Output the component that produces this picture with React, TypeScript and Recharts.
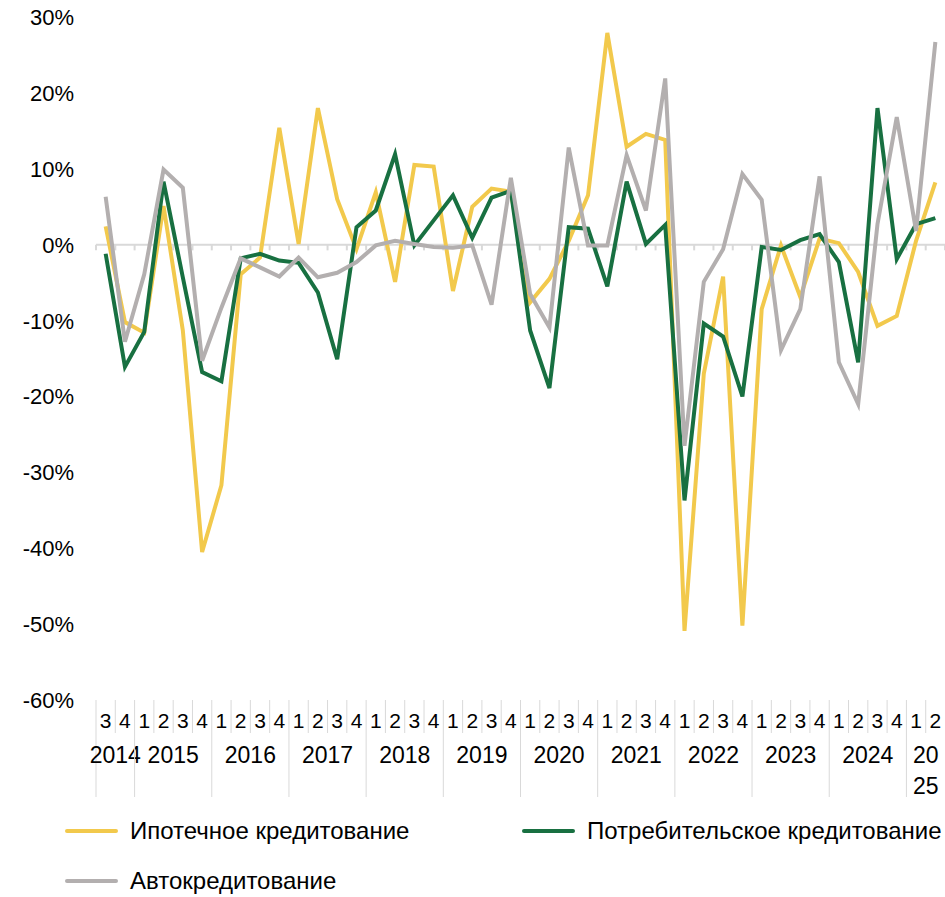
import React from 'react';
import { LineChart, Line, XAxis, YAxis, ReferenceLine, Legend } from 'recharts';

// quarter of each point, 2014 Q3 .. 2025 Q2
const quarterLabels = [
  '3', '4',
  '1', '2', '3', '4', '1', '2', '3', '4', '1', '2', '3', '4', '1', '2', '3', '4',
  '1', '2', '3', '4', '1', '2', '3', '4', '1', '2', '3', '4', '1', '2', '3', '4',
  '1', '2', '3', '4', '1', '2', '3', '4',
  '1', '2',
];
// one entry per year group, split into lines where the label is wrapped
const yearLabels = [
  ['2014'], ['2015'], ['2016'], ['2017'], ['2018'], ['2019'],
  ['2020'], ['2021'], ['2022'], ['2023'], ['2024'], ['20', '25'],
];

const mortgage = [
  2.4, -10.2, -11.6, 5.1, -11.3, -40.5, -31.7, -3.9, -1.7, 15.4, 0.1,
  18.0, 6.0, -0.6, 6.9, -4.9, 10.5, 10.3, -6.1, 5.0, 7.4, 7.0,
  -7.6, -4.5, 0.5, 6.5, 27.9, 12.9, 14.6, 13.8, -50.9, -17.0, -4.2,
  -50.2, -8.5, -0.1, -6.9, 0.8, 0.2, -3.6, -10.7, -9.4, 0.5, 8.2,
];
const consumer = [
  -1.2, -16.1, -11.5, 8.3, -4.3, -16.8, -18.0, -1.8, -1.2, -2.1, -2.4,
  -6.3, -15.1, 2.3, 4.5, 11.9, -0.1, 3.2, 6.5, 0.9, 6.2, 7.1,
  -11.3, -18.9, 2.3, 2.1, -5.5, 8.3, 0.1, 2.6, -33.7, -10.4, -12.1,
  -20.0, -0.3, -0.7, 0.6, 1.4, -2.3, -15.5, 18.0, -1.9, 2.7, 3.5,
];
const auto = [
  6.3, -12.8, -3.9, 9.9, 7.5, -15.3, -8.3, -1.8, -3.0, -4.2, -1.7,
  -4.3, -3.7, -2.3, -0.1, 0.5, 0.1, -0.3, -0.4, -0.1, -7.9, 8.8,
  -6.5, -10.9, 12.8, -0.1, -0.1, 11.8, 4.5, 21.9, -26.5, -4.9, -0.6,
  9.3, 5.9, -13.9, -8.5, 9.0, -15.5, -21.0, 2.7, 16.8, 1.8, 26.7,
];

const yTicks = [-60, -50, -40, -30, -20, -10, 0, 10, 20, 30];

const series = [
  { key: 'mortgage', name: 'Ипотечное кредитование', color: '#F2C94C' },
  { key: 'consumer', name: 'Потребительское кредитование', color: '#187041' },
  { key: 'auto', name: 'Автокредитование', color: '#B3AFAF' },
];

const data = quarterLabels.map((q, i) => ({
  idx: i,
  mortgage: mortgage[i],
  consumer: consumer[i],
  auto: auto[i],
}));

// start index and length of every year group
const yearGroups: { start: number; len: number; lines: string[] }[] = [];
quarterLabels.forEach((q, i) => {
  if (i === 0 || q === '1') {
    yearGroups.push({ start: i, len: 1, lines: yearLabels[yearGroups.length] });
  } else {
    yearGroups[yearGroups.length - 1].len += 1;
  }
});

const W = 945;
const H = 897;
const LEFT = 96;
const STEP = (W - LEFT) / quarterLabels.length;
const FONT = '"Liberation Sans", Arial, sans-serif';
const GRID = '#D9D9D9';

const QuarterTick = ({ x, y, payload }: any) => {
  const i = payload.value;
  const group = yearGroups.find((g) => g.start === i);
  const half = STEP / 2;
  return (
    <g>
      <line
        x1={x - half}
        x2={x - half}
        y1={y}
        y2={group ? y + 97 : y + 33}
        stroke={GRID}
        strokeWidth={1}
      />
      <text x={x} y={y + 28} textAnchor="middle" fontSize={21} fill="#000" fontFamily={FONT}>
        {quarterLabels[i]}
      </text>
      {group &&
        group.lines.map((line, k) => (
          <text
            key={k}
            x={x + (group.len - 1) * half}
            y={y + 63 + k * 31}
            textAnchor="middle"
            fontSize={23}
            fill="#000"
            fontFamily={FONT}
          >
            {line}
          </text>
        ))}
    </g>
  );
};

const PercentTick = ({ y, payload }: any) => (
  <text x={74} y={y + 8} textAnchor="end" fontSize={22} fill="#000" fontFamily={FONT}>
    {`${payload.value}%`}
  </text>
);

const LegendContent = () => {
  const items = [
    { s: series[0], x: 65, y: 16 },
    { s: series[1], x: 522, y: 16 },
    { s: series[2], x: 65, y: 66 },
  ];
  return (
    <div style={{ position: 'relative', width: W, height: 97, fontFamily: FONT, fontSize: 24 }}>
      {items.map(({ s, x, y }) => (
        <div key={s.key} style={{ position: 'absolute', left: x, top: y, display: 'flex', alignItems: 'center', height: 30 }}>
          <div style={{ width: 53, height: 4, borderRadius: 2, background: s.color, marginRight: 12 }} />
          <span style={{ color: '#000', whiteSpace: 'nowrap' }}>{s.name}</span>
        </div>
      ))}
    </div>
  );
};

export default function App() {
  const boundaries = quarterLabels.map((_, i) => i - 0.5).concat(quarterLabels.length - 0.5);
  return (
    <div style={{ position: 'absolute', left: 0, top: 0, background: '#fff' }}>
      <LineChart width={W} height={H} data={data} margin={{ top: 17, right: 0, left: 0, bottom: 0 }}>
        <XAxis
          dataKey="idx"
          type="number"
          domain={[-0.5, quarterLabels.length - 0.5]}
          ticks={data.map((d) => d.idx)}
          interval={0}
          axisLine={false}
          tickLine={false}
          tickSize={0}
          tickMargin={0}
          height={100}
          tick={<QuarterTick />}
        />
        <YAxis
          domain={[-60, 30]}
          ticks={yTicks}
          width={LEFT}
          axisLine={false}
          tickLine={false}
          tick={<PercentTick />}
        />
        <Legend verticalAlign="bottom" align="left" wrapperStyle={{ left: 0, bottom: 0, width: W, height: 97 }} content={<LegendContent />} />
        <ReferenceLine y={0} stroke={GRID} strokeWidth={2} />
        {boundaries.map((b) => (
          <ReferenceLine
            key={b}
            segment={[{ x: b, y: 0 }, { x: b, y: -0.75 }]}
            stroke={GRID}
            strokeWidth={2}
          />
        ))}
        {series.map((s) => (
          <Line
            key={s.key}
            type="linear"
            dataKey={s.key}
            name={s.name}
            stroke={s.color}
            strokeWidth={4}
            dot={false}
            activeDot={false}
            isAnimationActive={false}
          />
        ))}
      </LineChart>
    </div>
  );
}
